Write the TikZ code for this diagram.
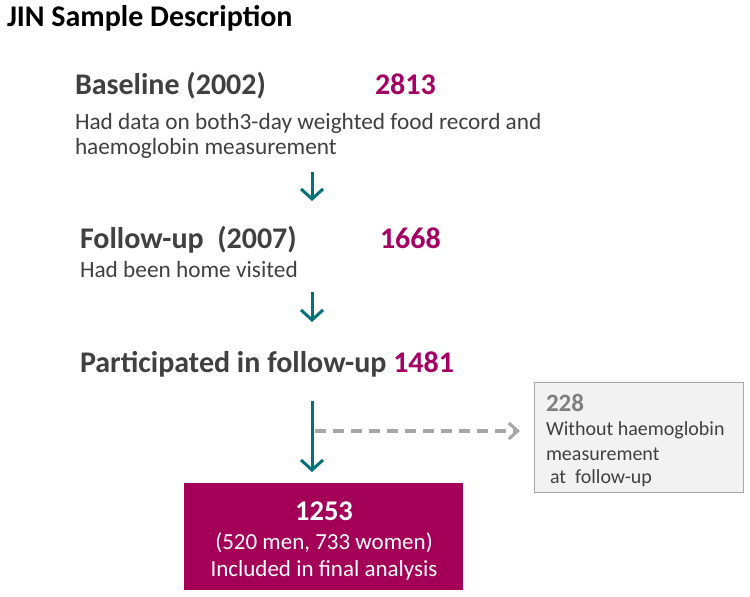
\documentclass[tikz,border=0pt]{standalone}
\usepackage{fontspec}
\setmainfont{Carlito}
\usetikzlibrary{arrows.meta}
\definecolor{teal1}{HTML}{00737A}
\definecolor{mag}{HTML}{A50057}
\definecolor{magtext}{HTML}{A50063}
\definecolor{dgray}{HTML}{404040}
\definecolor{lgray}{HTML}{A6A6A6}
\definecolor{boxfill}{HTML}{F2F2F2}
\definecolor{numgray}{HTML}{7F7F7F}
\tikzset{
  txt/.style={anchor=base west, inner sep=0pt, outer sep=0pt},
  headtxt/.style={txt, font=\fontsize{30}{34}\selectfont\bfseries, text=dgray},
  bodytxt/.style={txt, font=\fontsize{23.3}{27}\selectfont, text=dgray},
  numtxt/.style={txt, font=\fontsize{30}{34}\selectfont\bfseries, text=magtext},
  boxtxt/.style={txt, font=\fontsize{20}{24}\selectfont, text=dgray},
  finaltxt/.style={anchor=base, inner sep=0pt, font=\fontsize{23}{27}\selectfont, text=white},
  flowarrow/.style={draw=teal1, line width=3pt, -{Straight Barb[length=10pt,width=22pt,line width=3pt]}},
  dasharrow/.style={draw=lgray, line width=3.5pt, dash pattern=on 11pt off 7pt, -{Straight Barb[length=9pt,width=16pt,line width=3pt]}},
}
\begin{document}
\begin{tikzpicture}[x=1pt,y=-1pt]
\useasboundingbox[fill=white] (0,0) rectangle (750,597);
\node[txt, font=\fontsize{30}{34}\selectfont\bfseries, text=black] (title) at (7,26) {JIN Sample Description};

\node[headtxt] (base) at (75,94) {Baseline (2002)};
\node[numtxt] (n2813) at (375,94) {2813};
\node[bodytxt] (base1) at (75,129) {Had data on both3-day weighted food record and};
\node[bodytxt] (base2) at (75,154) {haemoglobin measurement};

\coordinate (a1s) at (312,172);
\coordinate (a1e) at (312,201);
\draw[flowarrow] (a1s) -- (a1e);

\node[headtxt] (fu) at (80,248) {Follow-up\ \ (2007)};
\node[numtxt] (n1668) at (380,248) {1668};
\node[bodytxt] (fu1) at (80,277) {Had been home visited};

\coordinate (a2s) at (312,292);
\coordinate (a2e) at (312,322);
\draw[flowarrow] (a2s) -- (a2e);

\node[headtxt] (part) at (80,372) {Participated in follow-up \textcolor{magtext}{1481}};

\node[draw=lgray, line width=1.2pt, fill=boxfill, minimum width=209pt, minimum height=110pt, inner sep=0pt, anchor=north west] (excl) at (534,382) {};
\node[txt, font=\fontsize{25}{28}\selectfont\bfseries, text=numgray] (n228) at (546,411) {228};
\node[boxtxt] (ex1) at (546,435) {Without haemoglobin};
\node[boxtxt] (ex2) at (546,460) {measurement};
\node[boxtxt] (ex3) at (550,483) {at\ \ follow-up};

\node[fill=mag, minimum width=279pt, minimum height=107pt, inner sep=0pt, anchor=north west] (final) at (184,483) {};
\node[finaltxt, font=\fontsize{28.5}{32}\selectfont\bfseries] (f1) at (324,520) {1253};
\node[finaltxt] (f2) at (324,549) {(520 men, 733 women)};
\node[finaltxt] (f3) at (324,576) {Included in final analysis};

\coordinate (a3s) at (312,401);
\coordinate (dstart) at (315,431);
\draw[flowarrow, shorten >=11pt] (a3s) -- (final.north -| a3s);
\draw[dasharrow, shorten >=14pt] (dstart) -- (dstart -| excl.west);
\end{tikzpicture}
\end{document}
